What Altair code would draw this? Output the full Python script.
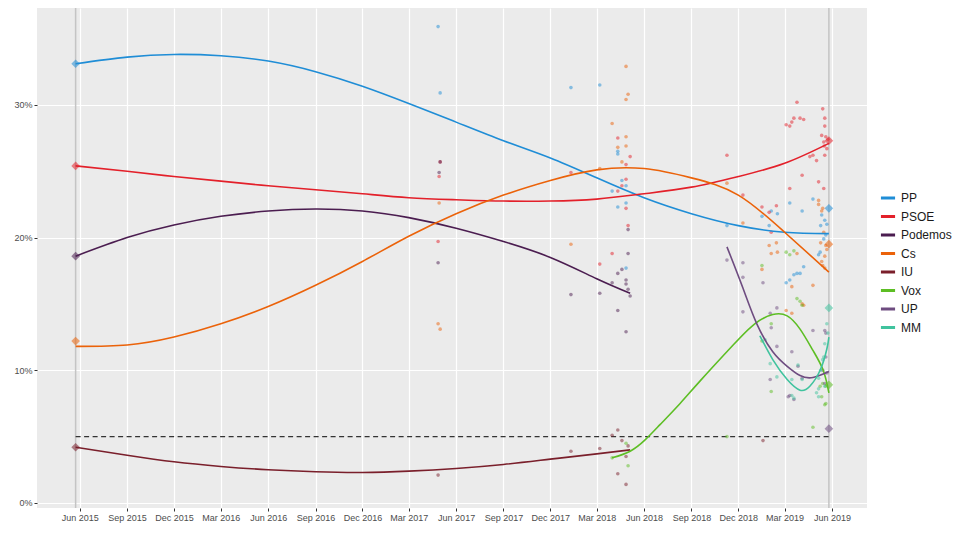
import altair as alt
import pandas as pd

PARTIES = ["PP", "PSOE", "Podemos", "Cs", "IU", "Vox", "UP", "MM"]
COLORS = ["#1F8DD6", "#E3202A", "#4B1D50", "#EB6209", "#7A1F2B", "#5DBE24", "#6E4C80", "#40C39E"]

# ---- individual polls (date, value %) ----
POLLS_PP = [("2017-04-27", 35.9), ("2017-05-01", 30.9), ("2018-01-10", 31.3), ("2018-03-07", 31.5),
            ("2018-03-31", 23.5), ("2018-04-11", 26.5), ("2018-04-11", 26.3), ("2018-04-27", 23.9),
            ("2018-04-27", 17.7), ("2018-04-19", 24.3), ("2018-04-11", 22.3), ("2018-04-27", 22.6),
            ("2018-11-09", 20.9), ("2019-01-16", 21.6), ("2019-01-30", 20.9), ("2019-02-15", 21.8),
            ("2019-02-03", 22.0), ("2019-03-11", 22.6), ("2019-04-04", 22.0), ("2019-04-25", 22.9),
            ("2019-05-12", 21.7), ("2019-05-18", 21.3), ("2019-05-10", 20.9), ("2019-05-16", 19.9),
            ("2019-05-09", 18.9), ("2019-05-06", 18.7), ("2019-03-19", 17.2), ("2019-03-25", 17.3),
            ("2019-03-31", 17.3), ("2019-03-11", 16.8), ("2019-03-04", 16.6), ("2019-04-07", 17.8),
            ("2019-05-22", 21.0), ("2019-05-20", 20.2)]
POLLS_PSOE = [("2017-04-27", 19.7), ("2017-05-01", 25.7), ("2017-04-29", 24.6), ("2018-01-10", 24.9),
              ("2018-03-07", 18.0), ("2018-03-31", 18.8), ("2018-04-11", 27.5), ("2018-04-11", 23.5),
              ("2018-04-19", 23.9), ("2018-04-27", 25.5), ("2018-04-27", 22.2), ("2018-04-27", 24.4),
              ("2018-05-05", 26.1), ("2018-05-01", 20.9), ("2018-11-09", 26.2), ("2018-12-10", 23.2),
              ("2019-01-16", 22.3), ("2019-01-30", 21.9), ("2019-02-03", 20.4), ("2019-02-13", 22.4),
              ("2019-03-04", 28.5), ("2019-03-11", 28.4), ("2019-03-15", 28.7), ("2019-03-19", 29.0),
              ("2019-03-25", 30.2), ("2019-03-31", 29.0), ("2019-04-07", 28.9), ("2019-03-11", 23.7),
              ("2019-04-04", 24.7), ("2019-04-19", 26.1), ("2019-04-25", 26.2), ("2019-05-02", 25.8),
              ("2019-05-06", 24.2), ("2019-05-16", 23.7), ("2019-05-14", 29.7), ("2019-05-18", 29.0),
              ("2019-05-18", 28.4), ("2019-05-12", 27.7), ("2019-05-20", 27.6), ("2019-05-16", 27.2),
              ("2019-05-24", 27.4), ("2019-05-17", 26.9), ("2019-05-22", 26.7), ("2019-05-18", 26.2)]
POLLS_PODEMOS = [("2017-04-27", 18.1), ("2017-05-01", 25.7), ("2017-04-29", 24.9), ("2018-01-10", 15.7),
                 ("2018-03-07", 15.8), ("2018-03-31", 16.6), ("2018-04-11", 17.3), ("2018-04-11", 14.5),
                 ("2018-04-19", 17.6), ("2018-04-27", 16.8), ("2018-04-27", 16.5), ("2018-05-01", 16.1),
                 ("2018-05-05", 15.6), ("2018-04-27", 12.9), ("2018-05-01", 18.8), ("2018-05-01", 20.6)]
POLLS_CS = [("2017-04-27", 13.5), ("2017-05-01", 13.1), ("2017-04-29", 22.6), ("2018-01-10", 19.5),
            ("2018-03-07", 25.2), ("2018-03-31", 28.6), ("2018-04-11", 26.8), ("2018-04-19", 25.7),
            ("2018-04-27", 32.9), ("2018-05-01", 30.8), ("2018-04-27", 30.4), ("2018-04-27", 27.6),
            ("2018-04-27", 26.9), ("2018-11-09", 24.1), ("2018-12-10", 21.1), ("2019-01-16", 17.6),
            ("2019-01-30", 19.4), ("2019-02-03", 18.8), ("2019-02-13", 19.6), ("2019-02-15", 18.9),
            ("2019-03-15", 16.3), ("2019-03-04", 14.5), ("2019-03-15", 14.3), ("2019-04-04", 15.0),
            ("2019-04-07", 14.9), ("2019-04-25", 16.4), ("2019-03-25", 18.8), ("2019-05-06", 22.8),
            ("2019-05-14", 22.2), ("2019-05-10", 19.6), ("2019-05-20", 19.4), ("2019-05-18", 18.6),
            ("2019-05-14", 17.9), ("2019-05-22", 19.1), ("2019-05-12", 18.2), ("2019-05-18", 17.7),
            ("2019-05-16", 20.4), ("2019-05-12", 22.0), ("2019-05-06", 22.5)]
POLLS_IU = [("2017-04-27", 2.1), ("2018-01-10", 3.9), ("2018-03-07", 4.1), ("2018-03-31", 5.1),
            ("2018-04-11", 5.5), ("2018-04-19", 4.7), ("2018-04-27", 3.5), ("2018-04-11", 2.2),
            ("2018-04-27", 1.4), ("2018-05-01", 4.3), ("2019-01-18", 4.7)]
POLLS_VOX = [("2018-03-31", 3.4), ("2018-04-27", 4.5), ("2018-05-01", 2.8), ("2018-11-09", 5.0),
             ("2019-01-16", 17.9), ("2019-01-16", 12.2), ("2019-02-03", 13.5), ("2019-02-03", 8.4),
             ("2019-03-04", 18.9), ("2019-03-11", 18.7), ("2019-03-19", 19.0), ("2019-03-25", 15.4),
             ("2019-03-31", 15.2), ("2019-04-04", 14.9), ("2019-05-09", 8.8), ("2019-05-14", 9.0),
             ("2019-05-18", 7.4), ("2019-05-20", 7.5), ("2019-05-12", 8.0), ("2019-04-25", 5.7),
             ("2019-05-20", 8.8)]
POLLS_UP = [("2018-11-09", 18.3), ("2018-12-10", 18.1), ("2018-12-10", 17.0), ("2018-12-10", 14.4),
            ("2019-01-18", 16.6), ("2019-02-01", 14.3), ("2019-02-14", 14.7), ("2019-02-03", 13.2),
            ("2019-02-14", 11.8), ("2019-02-01", 9.3), ("2019-03-15", 11.4), ("2019-03-27", 10.3),
            ("2019-03-11", 8.1), ("2019-03-08", 8.0), ("2019-03-19", 7.8), ("2019-04-25", 13.0),
            ("2019-05-18", 13.0), ("2019-05-20", 12.8), ("2019-04-04", 9.4), ("2019-05-14", 10.0),
            ("2019-05-18", 9.0), ("2019-05-22", 9.8), ("2019-05-20", 11.0)]
POLLS_MM = [("2019-01-22", 12.3), ("2019-02-01", 10.5), ("2019-02-14", 9.5), ("2019-03-15", 8.1),
            ("2019-03-19", 7.9), ("2019-03-15", 9.3), ("2019-04-04", 9.3), ("2019-03-27", 10.4),
            ("2019-05-06", 8.6), ("2019-05-18", 8.8), ("2019-05-22", 13.5), ("2019-05-24", 12.8),
            ("2019-05-14", 10.8), ("2019-05-10", 10.0), ("2019-05-18", 12.0), ("2019-05-16", 11.0),
            ("2019-05-06", 9.4), ("2019-05-02", 8.3), ("2019-05-06", 8.0)]

# ---- smoothed trend lines ----
TREND_DATES_MAIN = ["2015-05-24", "2015-09-01", "2015-12-01", "2016-03-01", "2016-06-01", "2016-09-01",
                    "2016-12-01", "2017-03-01", "2017-06-01", "2017-09-01", "2017-12-01", "2018-03-01",
                    "2018-06-01", "2018-09-01", "2018-12-01", "2019-03-01", "2019-05-26"]
TREND_PP = [33.1, 33.6, 33.8, 33.7, 33.3, 32.5, 31.4, 30.1, 28.7, 27.3, 26.0, 24.5, 23.0, 21.8, 20.9, 20.4, 20.3]
TREND_PSOE = [25.4, 25.0, 24.6, 24.25, 23.9, 23.6, 23.3, 23.0, 22.85, 22.75, 22.75, 22.9, 23.3, 23.8, 24.6, 25.6, 27.1]
TREND_CS = [11.8, 11.9, 12.5, 13.5, 14.8, 16.4, 18.2, 20.1, 21.8, 23.2, 24.3, 25.1, 25.2, 24.5, 23.2, 20.4, 17.4]
TREND_DATES_OLD = ["2015-05-24", "2015-09-01", "2015-12-01", "2016-03-01", "2016-06-01", "2016-09-01",
                   "2016-12-01", "2017-03-01", "2017-06-01", "2017-09-01", "2017-12-01", "2018-03-01",
                   "2018-05-05"]
TREND_PODEMOS = [18.6, 20.0, 20.95, 21.6, 22.0, 22.15, 22.0, 21.5, 20.7, 19.7, 18.5, 16.9, 15.8]
TREND_IU = [4.2, 3.6, 3.1, 2.75, 2.5, 2.35, 2.3, 2.4, 2.6, 2.9, 3.3, 3.7, 4.0]
TREND_DATES_VOX = ["2018-03-31", "2018-05-05", "2018-06-03", "2018-07-02", "2018-08-10", "2018-09-18",
                   "2018-11-21", "2019-01-02", "2019-02-06", "2019-03-06", "2019-03-31", "2019-04-25",
                   "2019-05-15", "2019-05-26"]
TREND_VOX = [3.4, 3.9, 4.75, 5.9, 7.5, 9.2, 11.9, 13.5, 14.2, 14.1, 13.1, 11.5, 10.0, 8.3]
TREND_DATES_UP = ["2018-11-09", "2018-12-10", "2019-01-06", "2019-02-06", "2019-03-06", "2019-03-31",
                  "2019-04-25", "2019-05-26"]
TREND_UP = [19.3, 16.2, 13.5, 11.4, 10.3, 9.6, 9.45, 9.9]
TREND_DATES_MM = ["2019-01-12", "2019-02-06", "2019-03-06", "2019-03-31", "2019-04-19", "2019-05-09",
                  "2019-05-22", "2019-05-26"]
TREND_MM = [12.6, 10.8, 9.3, 8.5, 8.8, 10.0, 11.6, 12.5]

# ---- election results ----
ELECTION_DATES = ["2015-05-24", "2019-05-26"]
RESULTS_2015 = {"PP": 33.1, "PSOE": 25.4, "Podemos": 18.6, "Cs": 12.2, "IU": 4.2}
RESULTS_2019 = {"PSOE": 27.3, "PP": 22.2, "Cs": 19.5, "MM": 14.7, "Vox": 8.9, "UP": 5.6}
THRESHOLD = 5

X_TICKS = ["2015-06-01", "2015-09-01", "2015-12-01", "2016-03-01", "2016-06-01", "2016-09-01",
           "2016-12-01", "2017-03-01", "2017-06-01", "2017-09-01", "2017-12-01", "2018-03-01",
           "2018-06-01", "2018-09-01", "2018-12-01", "2019-03-01", "2019-06-01"]
Y_TICKS = [0, 10, 20, 30]
X_DOMAIN = ["2015-03-10", "2019-08-08"]
Y_DOMAIN = [-0.38, 37.3]

# ---- tables ----
poll_src = {"PP": POLLS_PP, "PSOE": POLLS_PSOE, "Podemos": POLLS_PODEMOS, "Cs": POLLS_CS,
            "IU": POLLS_IU, "Vox": POLLS_VOX, "UP": POLLS_UP, "MM": POLLS_MM}
polls = pd.DataFrame([{"party": p, "date": d, "value": v} for p, lst in poll_src.items() for d, v in lst])

trend_src = [("PP", TREND_DATES_MAIN, TREND_PP), ("PSOE", TREND_DATES_MAIN, TREND_PSOE),
             ("Podemos", TREND_DATES_OLD, TREND_PODEMOS), ("Cs", TREND_DATES_MAIN, TREND_CS),
             ("IU", TREND_DATES_OLD, TREND_IU), ("Vox", TREND_DATES_VOX, TREND_VOX),
             ("UP", TREND_DATES_UP, TREND_UP), ("MM", TREND_DATES_MM, TREND_MM)]
trends = pd.DataFrame([{"party": p, "date": d, "value": v} for p, ds, vs in trend_src for d, v in zip(ds, vs)])

results = pd.DataFrame(
    [{"party": p, "date": ELECTION_DATES[0], "value": v} for p, v in RESULTS_2015.items()]
    + [{"party": p, "date": ELECTION_DATES[1], "value": v} for p, v in RESULTS_2019.items()]
)
elections = pd.DataFrame({"date": ELECTION_DATES})
threshold = pd.DataFrame({"start": [ELECTION_DATES[0]], "end": [ELECTION_DATES[1]], "value": [THRESHOLD]})

FONT = "Liberation Sans"
x_scale = alt.Scale(type="utc", domain=X_DOMAIN, nice=False)
y_scale = alt.Scale(domain=Y_DOMAIN, nice=False, zero=False)
x_axis = alt.Axis(values=X_TICKS, format="%b %Y", title=None, labelFontSize=9, labelColor="#4D4D4D",
                  tickColor="#333333", tickSize=3, labelPadding=2, grid=True, gridColor="white",
                  gridWidth=1.2, domain=False, labelFont=FONT, labelFlush=False)
y_axis = alt.Axis(values=Y_TICKS, labelExpr="datum.value + '%'", title=None, labelFontSize=9,
                  labelColor="#4D4D4D", tickColor="#333333", tickSize=3, labelPadding=2, grid=True,
                  gridColor="white", gridWidth=1.2, domain=False, labelFont=FONT)
color_scale = alt.Scale(domain=PARTIES, range=COLORS)
legend = alt.Legend(title=None, orient="none", legendX=842, legendY=181,
                    symbolType="stroke", symbolStrokeWidth=3, symbolSize=200, symbolOpacity=1,
                    labelFontSize=12, labelColor="#1A1A1A", labelFont=FONT,
                    rowPadding=3.5, labelOffset=4, padding=0)
COLOR = alt.Color("party:N", scale=color_scale, legend=legend, sort=PARTIES)

X = alt.X("date:T", scale=x_scale, axis=x_axis)
Y = alt.Y("value:Q", scale=y_scale, axis=y_axis)

vlines = alt.Chart(elections).mark_rule(color="#C4C4C4", strokeWidth=1.5).encode(x=X)

thr = alt.Chart(threshold).mark_rule(color="#333333", strokeWidth=1.4, strokeDash=[5, 3.5]).encode(
    x=alt.X("start:T", scale=x_scale, axis=x_axis), x2="end:T", y=Y)

points = alt.Chart(polls).mark_circle(size=13, opacity=0.5).encode(x=X, y=Y, color=COLOR)

lines = alt.Chart(trends).mark_line(strokeWidth=1.6, interpolate="natural").encode(
    x=X, y=Y, color=COLOR, detail="party:N")

diamonds = alt.Chart(results).mark_point(shape="diamond", filled=True, size=75, opacity=0.55).encode(
    x=X, y=Y, color=COLOR)

chart = alt.layer(vlines, thr, points, diamonds, lines).properties(
    width=830, height=500,
    autosize=alt.AutoSizeParams(type="none"),
    padding={"left": 29, "top": 0, "right": 85, "bottom": 18},
    background="white",
).configure_view(fill="#EBEBEB", stroke=None)

chart.save("out.html", embed_options={"renderer": "svg", "actions": False})
